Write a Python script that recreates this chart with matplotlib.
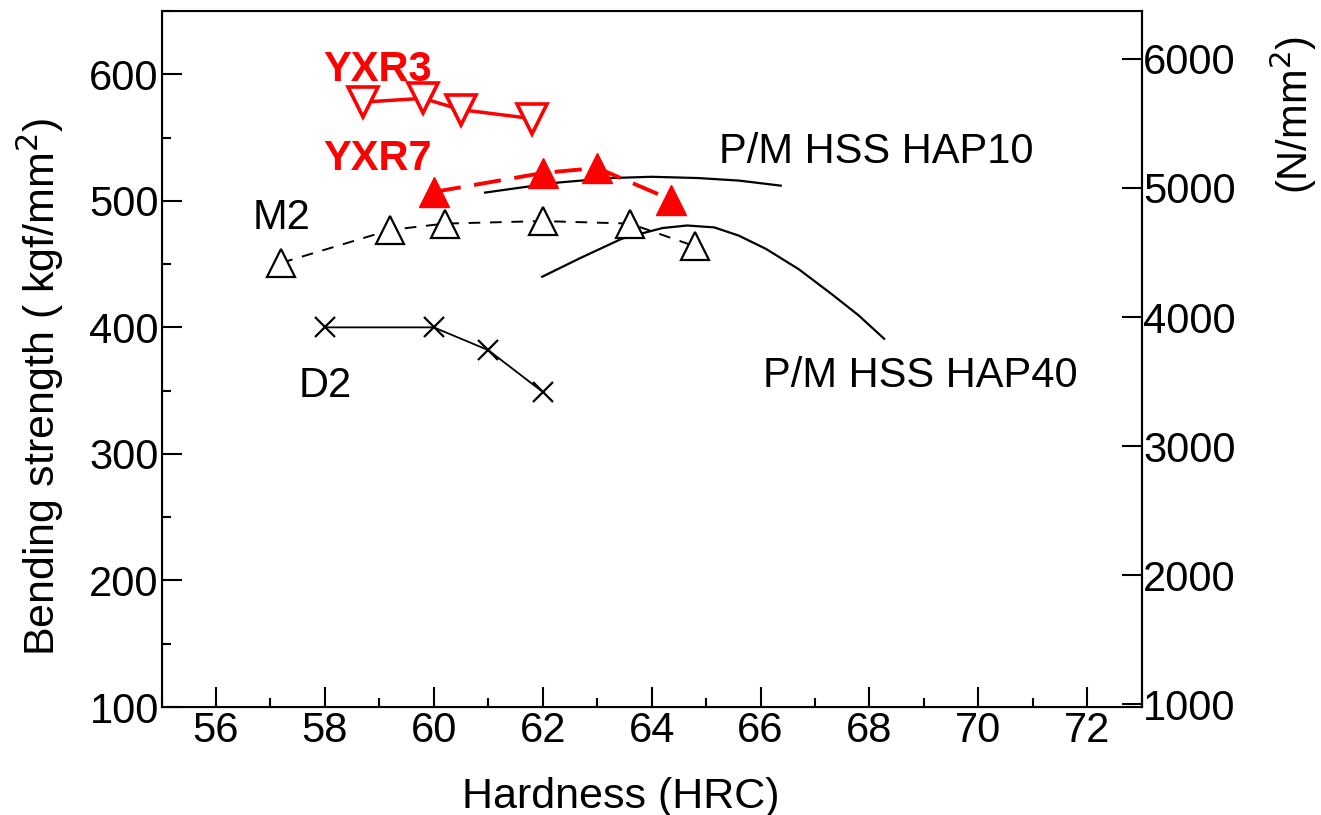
import numpy as np
import matplotlib.pyplot as plt
from matplotlib.ticker import MultipleLocator

plt.rcParams['font.family'] = ['Liberation Sans', 'DejaVu Sans']

# values: bending strength (kgf/mm2) vs hardness (HRC)
yxr3_x = [58.7, 59.8, 60.5, 61.8]
yxr3_y = [578, 581, 572, 565]

yxr7_x = [60.0, 62.0, 63.0, 64.35]
yxr7_y = [507, 522, 526, 501]

m2_x = [57.2, 59.2, 60.2, 62.0, 63.6, 64.8]
m2_y = [451, 477, 482, 484, 482, 464]

d2_x = [58, 60, 61, 62]
d2_y = [400, 400, 382, 349]

hap10_x = [60.94, 61.6, 62.3, 63.25, 64.0, 64.85, 65.6, 66.37]
hap10_y = [506.5, 510.5, 514.5, 518, 519, 518, 516, 512]

hap40_x = [61.99, 62.7, 63.45, 63.8, 64.2, 64.65, 65.15, 65.6, 66.1, 66.7, 67.3, 67.8, 68.27]
hap40_y = [440, 455, 470, 474, 478.5, 480.5, 479, 472.5, 462, 446, 426.5, 409.5, 391]

kgf_to_n = 9.8
x_ticks = [56, 58, 60, 62, 64, 66, 68, 70, 72]
y_ticks = [100, 200, 300, 400, 500, 600]
n_ticks = [1000, 2000, 3000, 4000, 5000, 6000]

fig = plt.figure(figsize=(13.21, 8.15), dpi=100)
ax = fig.add_axes([0.1223, 0.1325, 0.742, 0.854])

# reference curves
ax.plot(hap10_x, hap10_y, color='black', lw=1.6)
ax.plot(hap40_x, hap40_y, color='black', lw=1.6)

# D2
ax.plot(d2_x, d2_y, color='black', lw=1.3, marker='x', ms=14, mew=1.6)

# M2
ax.plot(m2_x, m2_y, color='black', lw=1.4, dashes=(6, 5),
        marker='^', ms=20, mfc='white', mec='black', mew=1.6)

# YXR7
ax.plot(yxr7_x, yxr7_y, color='red', lw=2.8, dashes=(7, 3.5),
        marker='^', ms=21, mfc='red', mec='red')

# YXR3
ax.plot(yxr3_x, yxr3_y, color='red', lw=2.5,
        marker='v', ms=21, mfc='white', mec='red', mew=2.6)

# curve labels
ax.text(57.97, 595, 'YXR3', color='red', fontsize=30, fontweight='bold', va='baseline')
ax.text(57.97, 524, 'YXR7', color='red', fontsize=30, fontweight='bold', va='baseline')
ax.text(56.68, 478, 'M2', fontsize=30, va='baseline')
ax.text(57.51, 345, 'D2', fontsize=30, va='baseline')
ax.text(65.23, 529.5, 'P/M HSS HAP10', fontsize=30, va='baseline')
ax.text(66.04, 352.5, 'P/M HSS HAP40', fontsize=30, va='baseline')

ax.set_xlim(55, 73)
ax.set_ylim(100, 650)
ax.set_xticks(x_ticks)
ax.set_yticks(y_ticks)
ax.xaxis.set_minor_locator(MultipleLocator(1))
ax.yaxis.set_minor_locator(MultipleLocator(50))
ax.tick_params(which='major', direction='in', length=14.5, width=1.5, labelsize=30)
ax.tick_params(which='minor', direction='in', length=6.5, width=1.5)
ax.tick_params(axis='x', pad=3)
ax.tick_params(axis='y', pad=2)
for s in ax.spines.values():
    s.set_linewidth(1.5)

ax.set_xlabel('Hardness (HRC)', fontsize=31)
ax.xaxis.set_label_coords(0.468, -0.1)
ax.set_ylabel('Bending strength ( kgf/mm$^2$)', fontsize=31)
ax.yaxis.set_label_coords(-0.098, 0.46)

# right axis in N/mm2
ax2 = ax.twinx()
ax2.set_ylim(100 * kgf_to_n, 650 * kgf_to_n)
ax2.set_yticks(n_ticks)
ax2.tick_params(direction='in', length=14.5, width=1.5, labelsize=30, pad=1)
ax2.spines['right'].set_linewidth(1.5)
ax2.text(1.155, 0.85, '(N/mm$^2$)', transform=ax2.transAxes, fontsize=30,
         rotation=90, ha='center', va='center')

fig.savefig('out.png', dpi=100)
